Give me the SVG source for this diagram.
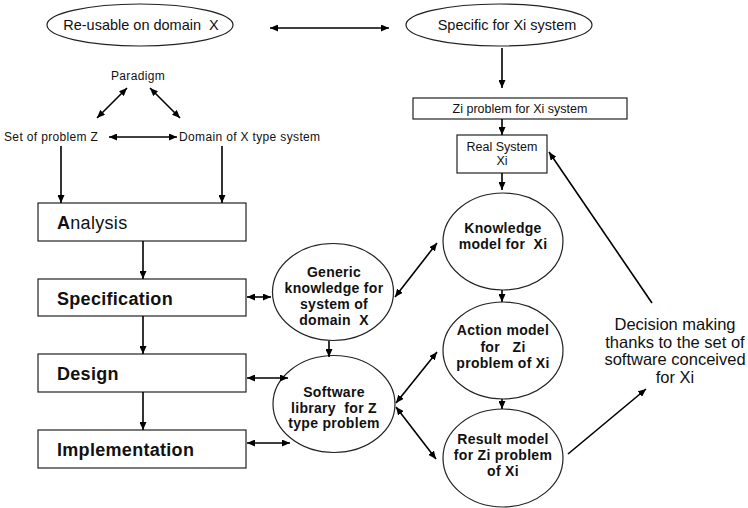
<svg xmlns="http://www.w3.org/2000/svg" width="748" height="508" viewBox="0 0 748 508">
  <style>
    .shape { fill: #fff; stroke: #222; stroke-width: 1.2; }
    .link { stroke: #000; stroke-width: 1.6; fill: none; }
    .one { marker-end: url(#head); }
    .two { marker-start: url(#head); marker-end: url(#head); }
    text { font-family: "Liberation Sans", Arial, Helvetica, sans-serif; fill: #111; white-space: pre; }
    .oval { font-size: 14.5px; text-anchor: middle; }
    .small { font-size: 12px; letter-spacing: 0.35px; }
    .mid { text-anchor: middle; }
    .step { font-size: 18px; font-weight: bold; letter-spacing: 0.3px; }
    .node { font-size: 14px; font-weight: bold; letter-spacing: 0.3px; text-anchor: middle; }
    .note { font-size: 16.5px; text-anchor: middle; }
  </style>
  <defs>
    <marker id="head" viewBox="0 0 8 7" markerWidth="8" markerHeight="7" refX="8" refY="3.5" orient="auto-start-reverse" markerUnits="userSpaceOnUse">
      <path d="M0,0 L8,3.5 L0,7 z" fill="#000"/>
    </marker>
  </defs>

  <!-- scope ovals -->
  <g id="reusable">
    <ellipse class="shape" cx="140" cy="25" rx="93" ry="21"/>
    <text class="oval" x="141" y="30">Re-usable on domain  X</text>
  </g>
  <g id="specific">
    <ellipse class="shape" cx="499" cy="25" rx="93" ry="21"/>
    <text class="oval" x="507" y="30">Specific for Xi system</text>
  </g>

  <!-- paradigm triangle -->
  <g id="paradigm"><text class="small mid" x="138" y="80">Paradigm</text></g>
  <g id="set-z"><text class="small" x="4" y="141">Set of problem Z</text></g>
  <g id="domain-x"><text class="small" x="179" y="141">Domain of X type system</text></g>

  <!-- development steps -->
  <g id="analysis">
    <rect class="shape" x="38" y="203" width="208" height="38"/>
    <text class="step" x="57" y="229">A<tspan font-weight="normal">nalysis</tspan></text>
  </g>
  <g id="specification">
    <rect class="shape" x="38" y="279" width="208" height="37"/>
    <text class="step" x="57" y="305">Specification</text>
  </g>
  <g id="design">
    <rect class="shape" x="38" y="354" width="208" height="38"/>
    <text class="step" x="57" y="380">Design</text>
  </g>
  <g id="implementation">
    <rect class="shape" x="38" y="430" width="208" height="38"/>
    <text class="step" x="57" y="456">Implementation</text>
  </g>

  <!-- generic side -->
  <g id="generic-knowledge">
    <ellipse class="shape" cx="333" cy="292" rx="60.5" ry="48.5"/>
    <text class="node" x="334" y="277">Generic</text>
    <text class="node" x="334" y="293">knowledge for</text>
    <text class="node" x="334" y="309">system of</text>
    <text class="node" x="334" y="325">domain  X</text>
  </g>
  <g id="software-library">
    <ellipse class="shape" cx="334" cy="404" rx="61" ry="48.5"/>
    <text class="node" x="334" y="397">Software</text>
    <text class="node" x="334" y="413">library  for Z</text>
    <text class="node" x="334" y="428">type problem</text>
  </g>

  <!-- specific side -->
  <g id="zi-problem">
    <rect class="shape" x="413" y="98" width="214" height="21"/>
    <text class="mid" font-size="12.5" x="520" y="113">Zi problem for Xi system</text>
  </g>
  <g id="real-system">
    <rect class="shape" x="457" y="135" width="90" height="38"/>
    <text class="mid" font-size="12.5" x="502" y="151">Real System</text>
    <text class="mid" font-size="12.5" x="502" y="165">Xi</text>
  </g>
  <g id="knowledge-model">
    <ellipse class="shape" cx="503" cy="241.5" rx="60" ry="48.5"/>
    <text class="node" x="503" y="233">Knowledge</text>
    <text class="node" x="503" y="249">model for  Xi</text>
  </g>
  <g id="action-model">
    <ellipse class="shape" cx="503" cy="350.5" rx="60" ry="48.5"/>
    <text class="node" x="503" y="335">Action model</text>
    <text class="node" x="503" y="352">for   Zi</text>
    <text class="node" x="503" y="368">problem of Xi</text>
  </g>
  <g id="result-model">
    <ellipse class="shape" cx="503" cy="458" rx="60" ry="49"/>
    <text class="node" x="503" y="444">Result model</text>
    <text class="node" x="503" y="460">for Zi problem</text>
    <text class="node" x="503" y="476">of Xi</text>
  </g>
  <g id="decision">
    <text class="note" x="675" y="330">Decision making</text>
    <text class="note" x="675" y="348">thanks to the set of</text>
    <text class="note" x="675" y="365">software conceived</text>
    <text class="note" x="675" y="383">for Xi</text>
  </g>

  <!-- connectors -->
  <g id="connectors">
    <line class="link two" x1="270" y1="28" x2="389" y2="28"/>
    <line class="link two" x1="97" y1="118" x2="127" y2="88"/>
    <line class="link two" x1="150" y1="88" x2="180" y2="118"/>
    <line class="link two" x1="109" y1="137" x2="177" y2="137"/>
    <line class="link one" x1="61" y1="146" x2="61" y2="203"/>
    <line class="link one" x1="222" y1="146" x2="222" y2="203"/>
    <line class="link one" x1="143" y1="241" x2="143" y2="279"/>
    <line class="link one" x1="143" y1="316" x2="143" y2="354"/>
    <line class="link one" x1="143" y1="392" x2="143" y2="430"/>
    <line class="link two" x1="247" y1="297" x2="271" y2="297"/>
    <line class="link two" x1="247" y1="378" x2="288" y2="378"/>
    <line class="link two" x1="247" y1="443" x2="290" y2="443"/>
    <line class="link one" x1="329" y1="341" x2="329" y2="357"/>
    <line class="link two" x1="395" y1="297" x2="437" y2="243"/>
    <line class="link two" x1="396" y1="403" x2="437" y2="352"/>
    <line class="link two" x1="396" y1="407" x2="436" y2="459"/>
    <line class="link one" x1="502" y1="48" x2="502" y2="88"/>
    <line class="link one" x1="502" y1="119" x2="502" y2="135"/>
    <line class="link one" x1="502" y1="173" x2="502" y2="190"/>
    <line class="link one" x1="502" y1="290" x2="502" y2="302"/>
    <line class="link one" x1="502" y1="399" x2="502" y2="409"/>
    <line class="link one" x1="568" y1="454" x2="646" y2="389"/>
    <line class="link one" x1="652" y1="303" x2="549" y2="152"/>
  </g>
</svg>
